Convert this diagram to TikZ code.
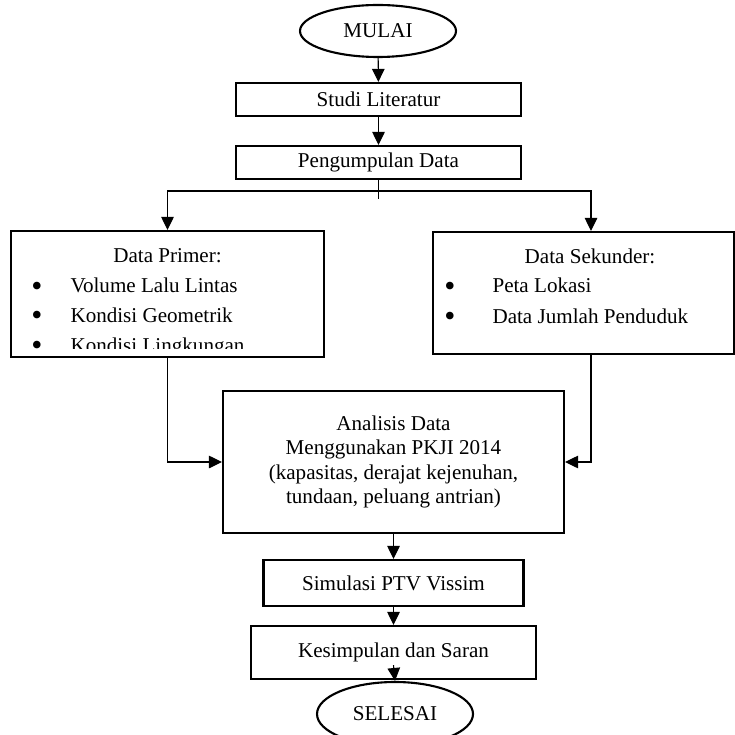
\documentclass[tikz,border=0pt]{standalone}
\usepackage{fontspec}
\setmainfont{Liberation Serif}
\usepackage{tikz}
\usetikzlibrary{shapes.geometric, arrows.meta}

\tikzset{
    kotak/.style={draw, line width=1.2pt, rectangle, minimum width=5.7cm, align=center},
    oval/.style={draw, line width=1.2pt, ellipse, minimum width=3.12cm},
    isi/.style={inner sep=0pt, anchor=base west},
    titik/.style={inner sep=0pt, anchor=base, font=\fontsize{18}{18}\selectfont}
}

\begin{document}
\begin{tikzpicture}[>={Triangle[length=2.6mm,width=2.5mm]}, line width=0.6pt, font=\fontsize{12}{14}\selectfont]
            \path[use as bounding box] (0,0) rectangle (14.7,-14.7);
            \clip (0,0) rectangle (14.7,-14.7);
            
            \node[oval, minimum height=1.04cm] (mulai) at (7.56, -0.62) {MULAI};
            \node[kotak, minimum height=0.66cm] (studi) at (7.57, -1.99) {Studi Literatur};
            \node[kotak, minimum height=0.66cm] (pengumpulan) at (7.57, -3.25) {Pengumpulan Data};
            
            \node[kotak, minimum width=6.26cm, minimum height=2.52cm] (primer) at (3.35, -5.88) {};
            \node[inner sep=0pt, anchor=base] (judulprimer) at (3.35, -5.26) {Data Primer:};
            \node[titik] (b1) at (0.74, -5.93) {\textbullet};
            \node[isi] (p1) at (1.40, -5.86) {Volume Lalu Lintas};
            \node[titik] (b2) at (0.74, -6.51) {\textbullet};
            \node[isi] (p2) at (1.40, -6.44) {Kondisi Geometrik};
            \begin{scope}
                \clip (0.3, -6.5) rectangle (6.4, -6.96);
                \node[titik] (b3) at (0.74, -7.11) {\textbullet};
                \node[isi] (p3) at (1.40, -7.04) {Kondisi Lingkungan};
            \end{scope}
            
            \node[kotak, minimum width=6.02cm, minimum height=2.44cm] (sekunder) at (11.67, -5.86) {};
            \node[inner sep=0pt, anchor=base] (judulsekunder) at (11.8, -5.28) {Data Sekunder:};
            \node[titik] (b4) at (9.0, -5.93) {\textbullet};
            \node[isi] (s1) at (9.84, -5.86) {Peta Lokasi};
            \node[titik] (b5) at (9.0, -6.53) {\textbullet};
            \node[isi] (s2) at (9.84, -6.46) {Data Jumlah Penduduk};
            
            \node[kotak, minimum width=6.82cm, minimum height=2.84cm] (analisis) at (7.87, -9.24)
                {Analisis Data\\ Menggunakan PKJI 2014\\ (kapasitas, derajat kejenuhan,\\ tundaan, peluang antrian)};
            \node[kotak, minimum width=5.2cm, minimum height=0.92cm] (simulasi) at (7.87, -11.66) {Simulasi PTV Vissim};
            \node[kotak, minimum height=1.06cm] (kesimpulan) at (7.87, -13.05) {Kesimpulan dan Saran};
            \node[oval, minimum height=1.28cm] (selesai) at (7.9, -14.28) {SELESAI};
            
            \coordinate (cabang) at (7.57, -3.82);
            
            \draw[->] (mulai) -- (studi);
            \draw[->] (studi) -- (pengumpulan);
            \draw (pengumpulan.south) -- ++(0, -0.38);
            \draw[->] (cabang) -| (primer.north);
            \draw[->] (cabang) -| ([xshift=0.15cm]sekunder.north);
            \draw[->] (primer.south) |- (analisis.west);
            \draw[->] ([xshift=0.15cm]sekunder.south) |- (analisis.east);
            \draw[->] (analisis) -- (simulasi);
            \draw[->] (simulasi) -- (kesimpulan);
            \draw[->] ([yshift=0.3cm]kesimpulan.south) -- (selesai.north);
        \end{tikzpicture}
\end{document}
